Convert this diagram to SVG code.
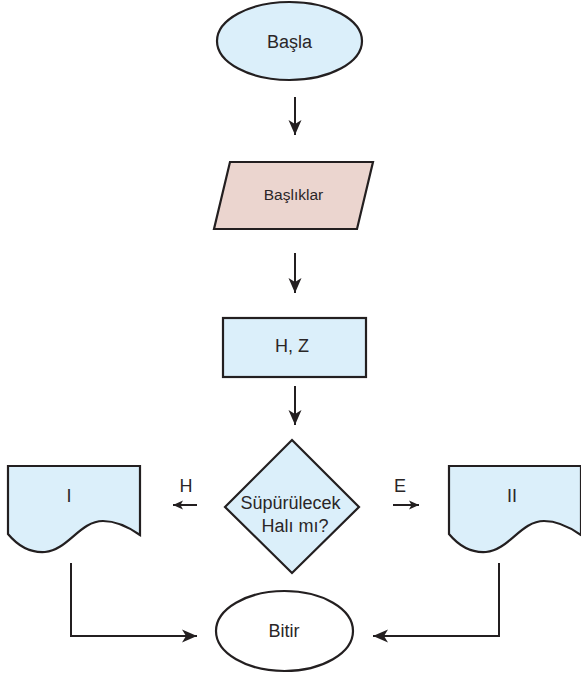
<svg xmlns="http://www.w3.org/2000/svg" width="581" height="676" viewBox="0 0 581 676">
<style>
.shape{stroke:#231f20;stroke-width:2.2;stroke-linejoin:miter}
.blue{fill:#dbeffa}
.pink{fill:#ebd5cf}
.white{fill:#ffffff}
.conn{fill:none;stroke:#231f20;stroke-width:2}
text{font-family:"Liberation Sans",Arial,sans-serif;fill:#2a2627;text-anchor:middle}
.t18{font-size:18px}
.t15{font-size:15.5px}
</style>
<defs>
<marker id="ah" markerUnits="userSpaceOnUse" markerWidth="16" markerHeight="14" viewBox="-15 -7 16 14" refX="0" refY="0" orient="auto">
<path d="M0,0 L-15,-6.5 L-11,0 L-15,6.5 Z" fill="#231f20"/>
</marker>
<marker id="ahs" markerUnits="userSpaceOnUse" markerWidth="12" markerHeight="10" viewBox="-11 -5 12 10" refX="0" refY="0" orient="auto">
<path d="M0,0 L-10,-4.5 L-7.5,0 L-10,4.5 Z" fill="#231f20"/>
</marker>
</defs>
<g id="connectors">
<line class="conn" x1="295" y1="97" x2="295" y2="135" marker-end="url(#ah)"/>
<line class="conn" x1="295" y1="253" x2="295" y2="293" marker-end="url(#ah)"/>
<line class="conn" x1="295" y1="386" x2="295" y2="425" marker-end="url(#ah)"/>
<line class="conn" x1="197" y1="505" x2="173" y2="505" marker-end="url(#ahs)"/>
<line class="conn" x1="393" y1="505" x2="419" y2="505" marker-end="url(#ahs)"/>
<polyline class="conn" points="71,563 71,636 197,636" marker-end="url(#ah)"/>
<polyline class="conn" points="499,563 499,636 373,636" marker-end="url(#ah)"/>
<text class="t18" x="186" y="492">H</text>
<text class="t18" x="400" y="492">E</text>
</g>
<g id="start">
<ellipse class="shape blue" cx="289.5" cy="41" rx="72.5" ry="39"/>
<text class="t18" x="289.5" y="48">Başla</text>
</g>
<g id="headers">
<polygon class="shape pink" points="230,162 373,162 357,229 214,229"/>
<text class="t15" x="293.5" y="200">Başlıklar</text>
</g>
<g id="hz">
<rect class="shape blue" x="223" y="318" width="143" height="59"/>
<text class="t18" x="292" y="352">H, Z</text>
</g>
<g id="decision">
<polygon class="shape blue" points="292,440 359,507 292,573 225,507"/>
<text class="t18" x="290.5" y="509">Süpürülecek</text>
<text class="t18" x="295" y="532">Halı mı?</text>
</g>
<g id="docI">
<path class="shape blue" d="M8,466 L140,466 L140,535 C130,528 118,521 103,521 C80,521 68,550 45,552 C30,553 18,546 8,534 Z"/>
<text class="t18" x="69" y="502">I</text>
</g>
<g id="docII">
<path class="shape blue" d="M449,466 L581,466 L581,535 C571,528 559,521 544,521 C521,521 509,550 486,552 C471,553 459,546 449,534 Z"/>
<text class="t18" x="512" y="502">II</text>
</g>
<g id="end">
<ellipse class="shape white" cx="284.5" cy="631" rx="68.5" ry="40"/>
<text class="t18" x="284" y="637">Bitir</text>
</g>
</svg>
